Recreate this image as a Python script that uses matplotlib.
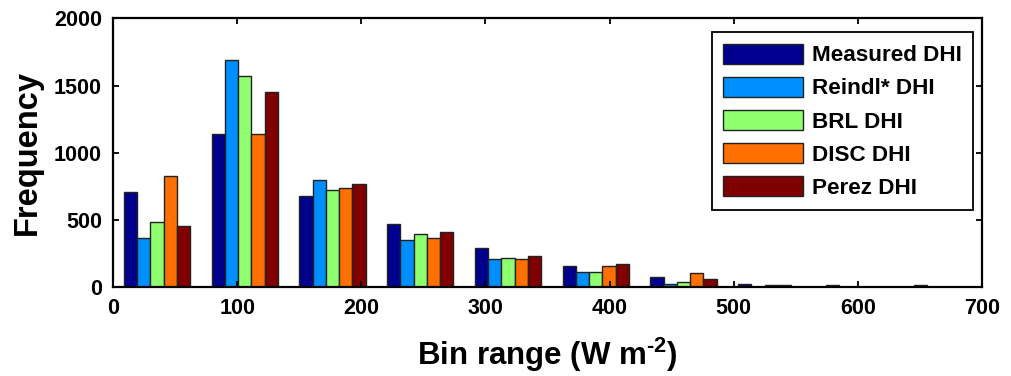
import matplotlib
matplotlib.use("Agg")
import matplotlib.pyplot as plt
import numpy as np

plt.rcParams['font.family'] = ['Liberation Sans', 'DejaVu Sans']
plt.rcParams['font.weight'] = 'bold'
plt.rcParams['mathtext.fontset'] = 'custom'
plt.rcParams['mathtext.rm'] = 'Liberation Sans:bold'
plt.rcParams['mathtext.bf'] = 'Liberation Sans:bold'

# Histogram bin centres (W m^-2)
bin_centers = [35.4, 106.1, 176.8, 247.5, 318.2, 388.9, 459.6, 530.3, 601.0, 671.7]

series_names = ["Measured DHI", "Reindl* DHI", "BRL DHI", "DISC DHI", "Perez DHI"]
series_colors = ["#00008F", "#008FFF", "#8FFF70", "#FF7000", "#800000"]

measured = [710, 1140, 680, 470, 294, 161, 74, 27, 15, 15]
reindl   = [369, 1690, 800, 354, 208, 116, 27, 2, 0, 0]
brl      = [488, 1571, 726, 399, 220, 116, 42, 15, 0, 0]
disc     = [830, 1142, 741, 369, 208, 161, 104, 15, 0, 0]
perez    = [458, 1454, 770, 414, 235, 176, 59, 3, 0, 0]

series_values = [measured, reindl, brl, disc, perez]

fig = plt.figure(figsize=(10.11, 3.76), dpi=100)
ax = fig.add_axes([0.1118, 0.2359, 0.8595, 0.7154])

n = len(series_values)
spacing = bin_centers[1] - bin_centers[0]
bar_w = 0.755 * spacing / n
x = np.array(bin_centers)
for i, (name, vals, col) in enumerate(zip(series_names, series_values, series_colors)):
    offs = (i - (n - 1) / 2) * bar_w
    ax.bar(x + offs, vals, width=bar_w, color=col, edgecolor="#222222",
           linewidth=1.0, label=name)

ax.set_xlim(0, 700)
ax.set_ylim(0, 2000)
ax.set_xticks(range(0, 701, 100))
ax.set_yticks(range(0, 2001, 500))

for s in ax.spines.values():
    s.set_linewidth(1.6)
    s.set_color("black")

ax.tick_params(direction="in", length=4, width=1.3, top=True, right=True,
               labelsize=15.5, pad=8)
for lab in ax.get_xticklabels() + ax.get_yticklabels():
    lab.set_fontweight("bold")

ax.set_xlabel(r"Bin range (W m$^{\text{-2}}$)", fontsize=22.5, fontweight="bold",
              labelpad=12)
ax.set_ylabel("Frequency", fontsize=23.5, fontweight="bold", labelpad=8)

leg = ax.legend(loc="upper right", bbox_to_anchor=(0.9896, 0.948),
                borderaxespad=0.0,
                prop={"size": 16.2, "weight": "bold"},
                handlelength=3.55, handleheight=1.02, labelspacing=0.45,
                handletextpad=0.4, borderpad=0.5, fancybox=False,
                framealpha=1, edgecolor="black")
leg.get_frame().set_linewidth(1.3)

fig.savefig("out.png", dpi=100)
